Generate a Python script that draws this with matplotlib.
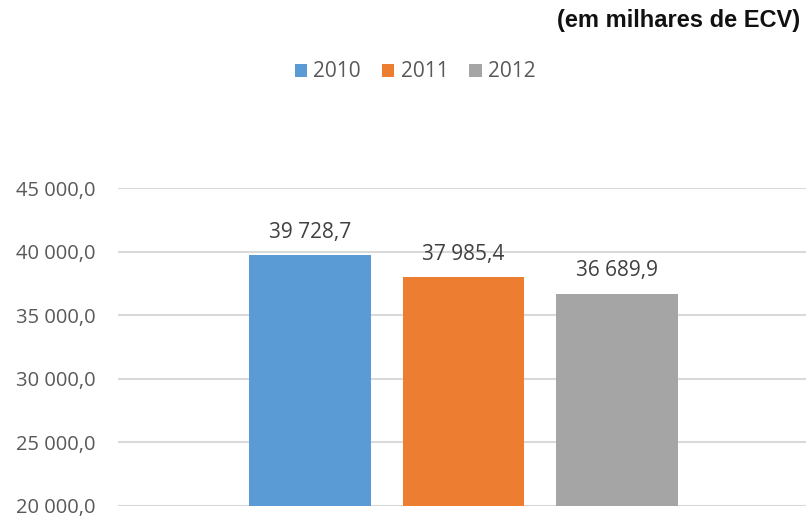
import matplotlib
matplotlib.use("Agg")
import matplotlib.pyplot as plt

series = ["2010", "2011", "2012"]
values = [39728.7, 37985.4, 36689.9]
colors = ["#5b9bd5", "#ed7d31", "#a5a5a5"]
yticks = [20000, 25000, 30000, 35000, 40000, 45000]

def fmt(v):
    s = f"{v:,.1f}"
    return s.replace(",", " ").replace(".", ",")

plt.rcParams['font.family'] = ['Open Sans', 'DejaVu Sans']
W, H = 806, 518
fig = plt.figure(figsize=(W/100, H/100), dpi=100)
ax = fig.add_axes([118/W, 1-506/H, 1-118/W, (506-188)/H])

for i, (s, v, c) in enumerate(zip(series, values, colors)):
    ax.bar(i, v - yticks[0], bottom=yticks[0], width=0.79, color=c, label=s, zorder=3)
    ax.annotate(fmt(v), (i, v), xytext=(0, 9), textcoords="offset points",
                ha="center", va="bottom", fontsize=15, color="#404040")

ax.set_ylim(yticks[0], yticks[-1])
ax.set_xlim(-1.251, 3.231)
ax.set_yticks(yticks)
ax.set_yticklabels([fmt(t) for t in yticks], fontsize=14.5, color="#595959")
ax.set_xticks([])
ax.grid(axis="y", color="#d9d9d9", linewidth=1.5, zorder=0)
for sp in ax.spines.values():
    sp.set_visible(False)
ax.tick_params(axis="y", length=0, pad=16)

fig.legend(loc="center", bbox_to_anchor=(415/W, 1-72/H), ncol=3, frameon=False,
           fontsize=15, handlelength=0.6, handleheight=0.6, handletextpad=0.3,
           columnspacing=1.0, labelcolor="#595959")
fig.text(800/W, 1-20/H, "(em milhares de ECV)", ha="right", va="center",
         fontsize=17, fontweight="bold", family="Liberation Sans", color="#111111")

fig.savefig("out.png", dpi=100)
